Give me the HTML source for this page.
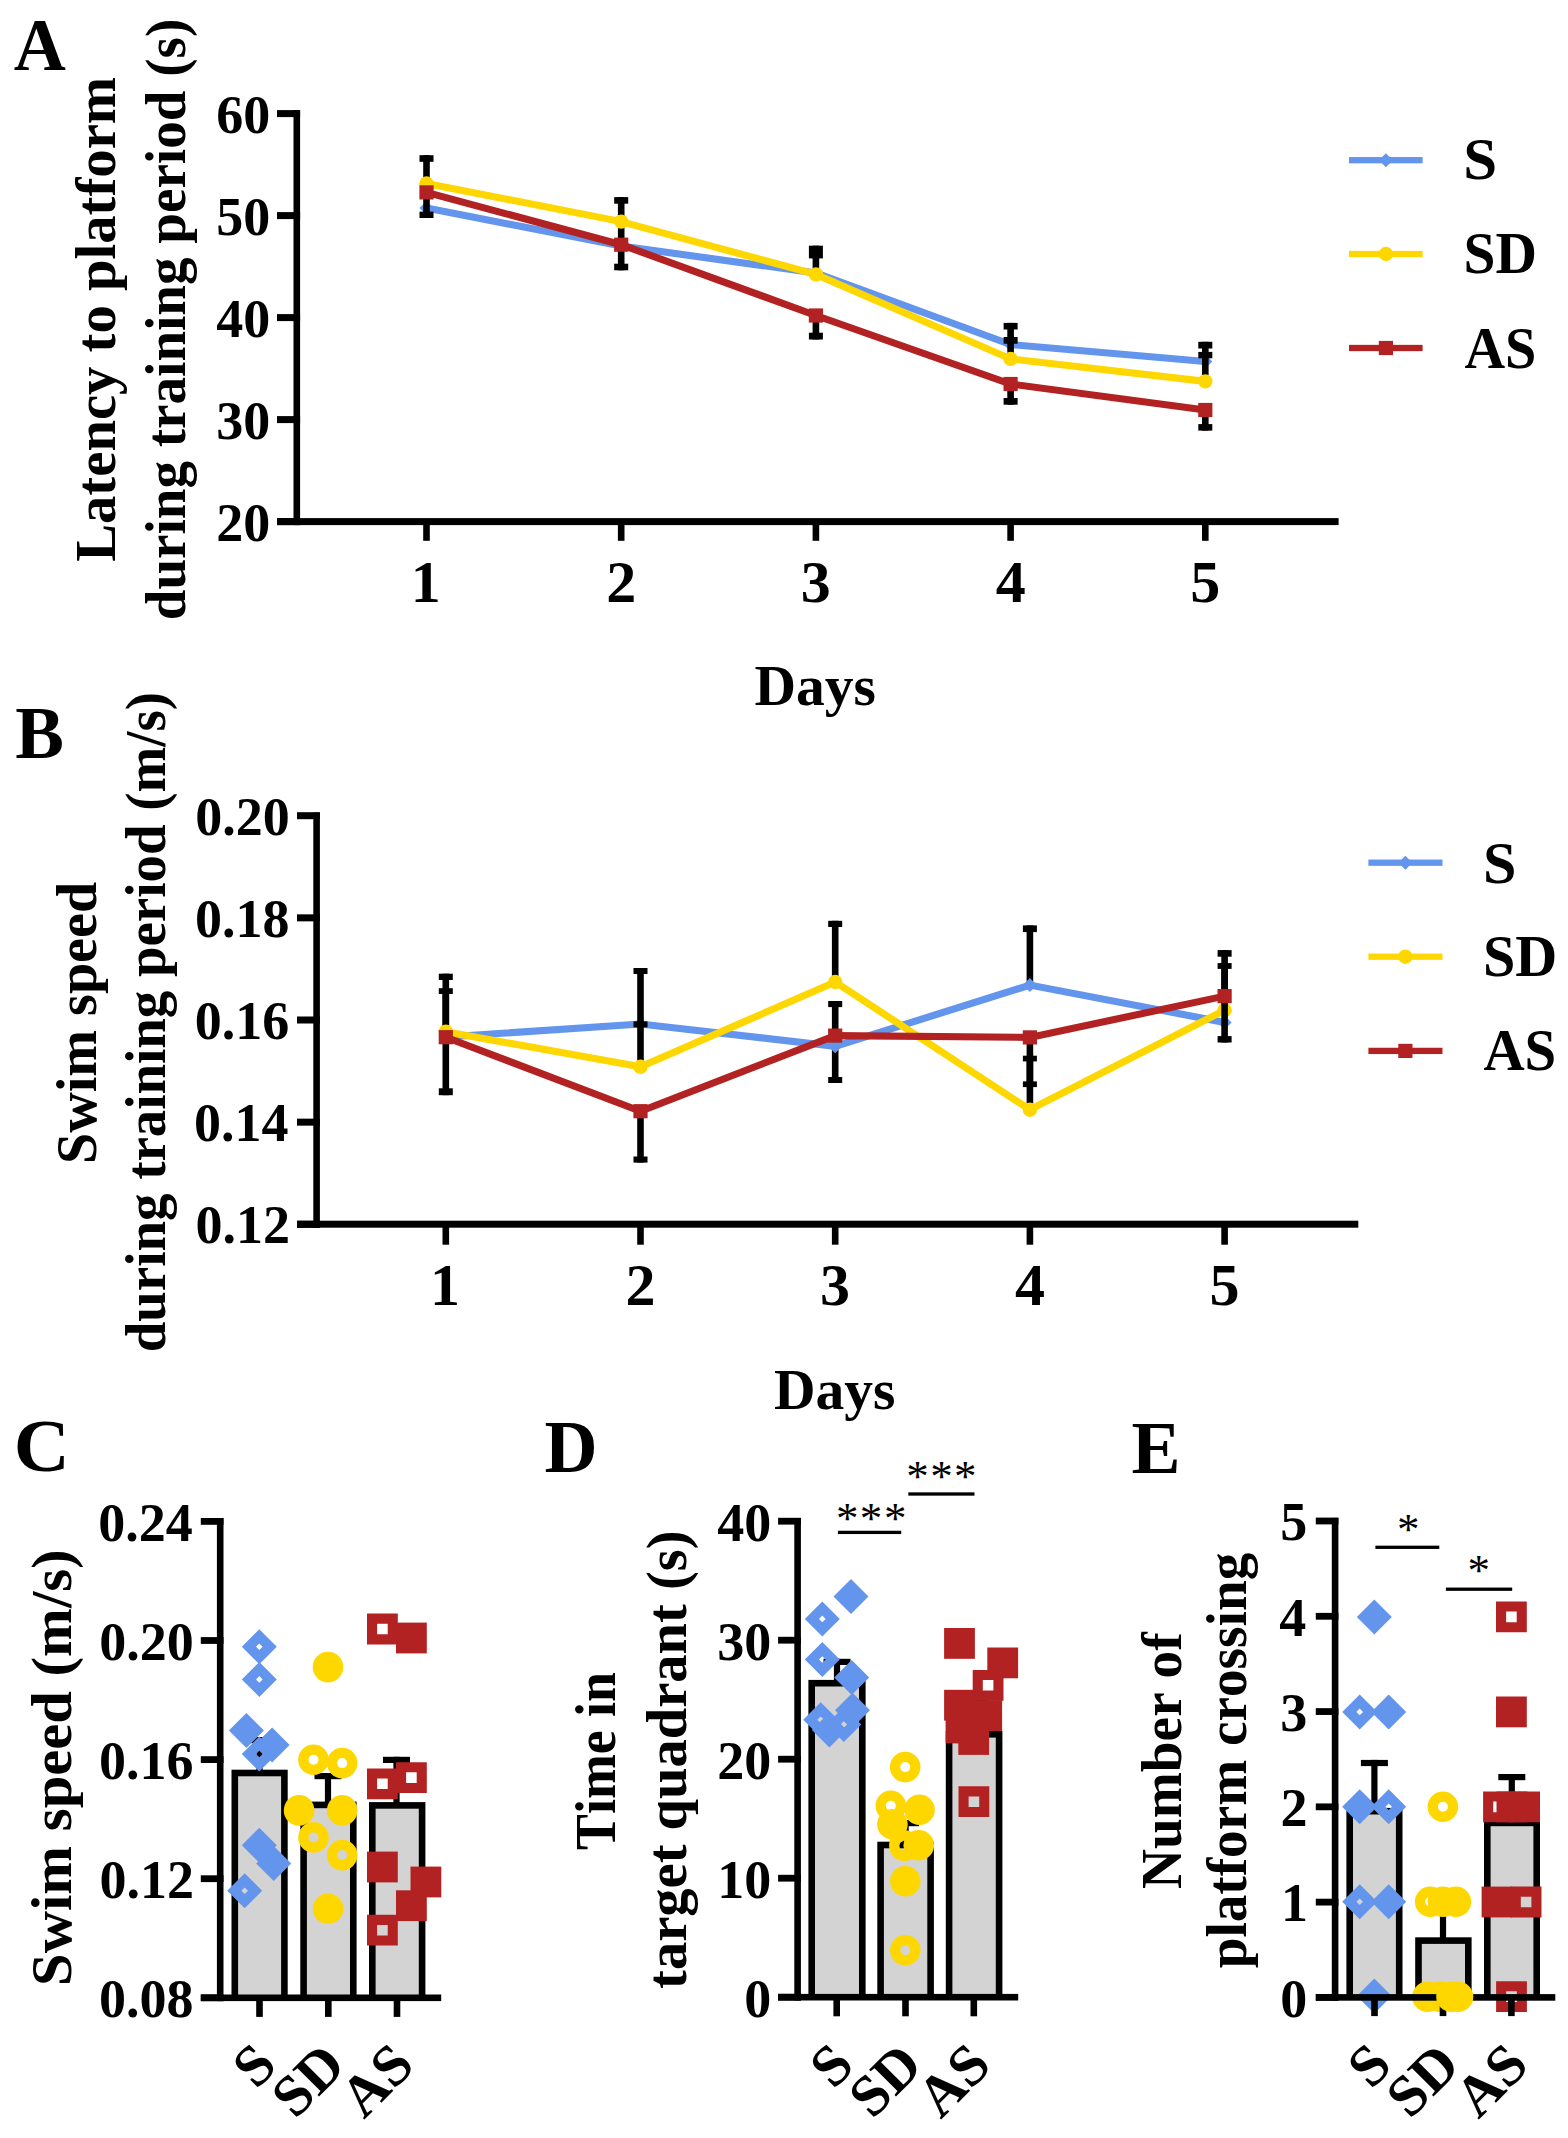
<!DOCTYPE html>
<html><head><meta charset="utf-8"><title>Figure</title>
<style>html,body{margin:0;padding:0;background:#fff;width:1568px;height:2138px;overflow:hidden}svg{display:block}</style>
</head><body>
<svg width="1568" height="2138" viewBox="0 0 1568 2138"><rect x="0" y="0" width="1568" height="2138" fill="#fff"/>
<g font-family='"Liberation Serif", serif' style="font-kerning:none">
<text transform="translate(13.8,69.6) scale(0.9755,1)" font-size="74" font-weight="bold" fill="#000">A</text>
<rect x="293.5" y="110" width="6.6" height="415.1" fill="#000"/>
<rect x="277" y="518.1" width="23.1" height="7" fill="#000"/>
<text transform="translate(216.26,540.9)" font-size="54" font-weight="bold" fill="#000">20</text>
<rect x="277" y="416.1" width="23.1" height="7" fill="#000"/>
<text transform="translate(216.26,438.9)" font-size="54" font-weight="bold" fill="#000">30</text>
<rect x="277" y="314.1" width="23.1" height="7" fill="#000"/>
<text transform="translate(216.26,336.9)" font-size="54" font-weight="bold" fill="#000">40</text>
<rect x="277" y="212.1" width="23.1" height="7" fill="#000"/>
<text transform="translate(216.26,234.9)" font-size="54" font-weight="bold" fill="#000">50</text>
<rect x="277" y="110.1" width="23.1" height="7" fill="#000"/>
<text transform="translate(216.26,132.9)" font-size="54" font-weight="bold" fill="#000">60</text>
<rect x="277" y="518.1" width="1061.6" height="7" fill="#000"/>
<rect x="423.2" y="521.6" width="6.6" height="19.2" fill="#000"/>
<text transform="translate(410.65,601.8)" font-size="60" font-weight="bold" fill="#000">1</text>
<rect x="617.9" y="521.6" width="6.6" height="19.2" fill="#000"/>
<text transform="translate(606.23,601.8)" font-size="60" font-weight="bold" fill="#000">2</text>
<rect x="812.6" y="521.6" width="6.6" height="19.2" fill="#000"/>
<text transform="translate(800.8,601.8)" font-size="60" font-weight="bold" fill="#000">3</text>
<rect x="1007.3" y="521.6" width="6.6" height="19.2" fill="#000"/>
<text transform="translate(995.75,601.8)" font-size="60" font-weight="bold" fill="#000">4</text>
<rect x="1202" y="521.6" width="6.6" height="19.2" fill="#000"/>
<text transform="translate(1190.2,601.8)" font-size="60" font-weight="bold" fill="#000">5</text>
<text transform="translate(754.49,705.3) scale(0.9923,1)" font-size="58" font-weight="bold" fill="#000">Days</text>
<text transform="translate(115,561.77) rotate(-90) scale(0.9946,1)" font-size="57" font-weight="bold">Latency to platform</text>
<text transform="translate(184.7,620.23) rotate(-90) scale(0.9668,1)" font-size="57" font-weight="bold">during training period (s)</text>
<rect x="617.9" y="226" width="6.6" height="20" fill="#000"/>
<polyline points="426.5,208 621.2,246 815.9,273 1010.6,344.5 1205.3,361.5" fill="none" stroke="#6495ED" stroke-width="7.1" stroke-linejoin="miter" stroke-linecap="butt"/>
<path d="M426.5 201L433.5 208L426.5 215L419.5 208Z" fill="#6495ED" fill-rule="evenodd"/>
<path d="M621.2 239L628.2 246L621.2 253L614.2 246Z" fill="#6495ED" fill-rule="evenodd"/>
<path d="M815.9 266L822.9 273L815.9 280L808.9 273Z" fill="#6495ED" fill-rule="evenodd"/>
<path d="M1010.6 337.5L1017.6 344.5L1010.6 351.5L1003.6 344.5Z" fill="#6495ED" fill-rule="evenodd"/>
<path d="M1205.3 354.5L1212.3 361.5L1205.3 368.5L1198.3 361.5Z" fill="#6495ED" fill-rule="evenodd"/>
<rect x="423.2" y="155.2" width="6.6" height="28.3" fill="#000"/>
<rect x="419.5" y="155.2" width="14" height="6.6" fill="#000"/>
<rect x="617.9" y="197.1" width="6.6" height="24.5" fill="#000"/>
<rect x="614.2" y="197.1" width="14" height="6.6" fill="#000"/>
<rect x="812.6" y="245.7" width="6.6" height="28.7" fill="#000"/>
<rect x="808.9" y="245.7" width="14" height="6.6" fill="#000"/>
<rect x="1007.3" y="322.9" width="6.6" height="36" fill="#000"/>
<rect x="1003.6" y="322.9" width="14" height="6.6" fill="#000"/>
<rect x="1202" y="341.8" width="6.6" height="39.6" fill="#000"/>
<rect x="1198.3" y="341.8" width="14" height="6.7" fill="#000"/>
<rect x="812.6" y="251.8" width="6.6" height="6.6" fill="#000"/>
<rect x="808.9" y="251.8" width="14" height="6.6" fill="#000"/>
<rect x="1007.3" y="337" width="6.6" height="6.7" fill="#000"/>
<rect x="1003.6" y="337" width="14" height="6.7" fill="#000"/>
<rect x="1202" y="351.9" width="6.6" height="6.4" fill="#000"/>
<rect x="1198.3" y="351.9" width="14" height="6.4" fill="#000"/>
<polyline points="426.5,183.5 621.2,221.6 815.9,274.4 1010.6,358.9 1205.3,381.4" fill="none" stroke="#FFD700" stroke-width="7.1" stroke-linejoin="miter" stroke-linecap="butt"/>
<circle cx="426.5" cy="183.5" r="7.2" fill="#FFD700"/>
<circle cx="621.2" cy="221.6" r="7.2" fill="#FFD700"/>
<circle cx="815.9" cy="274.4" r="7.2" fill="#FFD700"/>
<circle cx="1010.6" cy="358.9" r="7.2" fill="#FFD700"/>
<circle cx="1205.3" cy="381.4" r="7.2" fill="#FFD700"/>
<rect x="423.2" y="192.4" width="6.6" height="25.6" fill="#000"/>
<rect x="419.5" y="211.6" width="14" height="6.4" fill="#000"/>
<rect x="617.9" y="244.7" width="6.6" height="25.6" fill="#000"/>
<rect x="614.2" y="263.7" width="14" height="6.6" fill="#000"/>
<rect x="812.6" y="315.5" width="6.6" height="24" fill="#000"/>
<rect x="808.9" y="332.7" width="14" height="6.8" fill="#000"/>
<rect x="1007.3" y="384" width="6.6" height="20.7" fill="#000"/>
<rect x="1003.6" y="398" width="14" height="6.7" fill="#000"/>
<rect x="1202" y="410" width="6.6" height="20.6" fill="#000"/>
<rect x="1198.3" y="424.1" width="14" height="6.5" fill="#000"/>
<polyline points="426.5,192.4 621.2,244.7 815.9,315.5 1010.6,384 1205.3,410" fill="none" stroke="#B22222" stroke-width="7.1" stroke-linejoin="miter" stroke-linecap="butt"/>
<path d="M419.4 185.3h14.2v14.2h-14.2Z" fill="#B22222" fill-rule="evenodd"/>
<path d="M614.1 237.6h14.2v14.2h-14.2Z" fill="#B22222" fill-rule="evenodd"/>
<path d="M808.8 308.4h14.2v14.2h-14.2Z" fill="#B22222" fill-rule="evenodd"/>
<path d="M1003.5 376.9h14.2v14.2h-14.2Z" fill="#B22222" fill-rule="evenodd"/>
<path d="M1198.2 402.9h14.2v14.2h-14.2Z" fill="#B22222" fill-rule="evenodd"/>
<rect x="1349" y="157.05" width="73.6" height="6.3" fill="#6495ED"/>
<path d="M1385.9 153.2L1392.9 160.2L1385.9 167.2L1378.9 160.2Z" fill="#6495ED" fill-rule="evenodd"/>
<text transform="translate(1463.35,179.4) scale(1.0344,1)" font-size="59" font-weight="bold" fill="#000">S</text>
<rect x="1349" y="250.85" width="73.6" height="6.3" fill="#FFD700"/>
<circle cx="1385.9" cy="254" r="7.2" fill="#FFD700"/>
<text transform="translate(1463.54,273.4) scale(0.9741,1)" font-size="59" font-weight="bold" fill="#000">SD</text>
<rect x="1349" y="344.85" width="73.6" height="6.3" fill="#B22222"/>
<path d="M1378.8 340.9h14.2v14.2h-14.2Z" fill="#B22222" fill-rule="evenodd"/>
<text transform="translate(1464.45,367.6) scale(0.9539,1)" font-size="59" font-weight="bold" fill="#000">AS</text>
<text transform="translate(15.19,757.6)" font-size="73" font-weight="bold" fill="#000">B</text>
<rect x="313.3" y="812.5" width="6.6" height="415.3" fill="#000"/>
<rect x="297" y="1220.8" width="22.9" height="7" fill="#000"/>
<text transform="translate(195.42,1243.3)" font-size="54" font-weight="bold" fill="#000">0.12</text>
<rect x="297" y="1118.65" width="22.9" height="7" fill="#000"/>
<text transform="translate(194.1,1141.15)" font-size="54" font-weight="bold" fill="#000">0.14</text>
<rect x="297" y="1016.5" width="22.9" height="7" fill="#000"/>
<text transform="translate(194.68,1039)" font-size="54" font-weight="bold" fill="#000">0.16</text>
<rect x="297" y="914.35" width="22.9" height="7" fill="#000"/>
<text transform="translate(194.89,936.85)" font-size="54" font-weight="bold" fill="#000">0.18</text>
<rect x="297" y="812.2" width="22.9" height="7" fill="#000"/>
<text transform="translate(195.16,834.7)" font-size="54" font-weight="bold" fill="#000">0.20</text>
<rect x="297" y="1220.7" width="1061.3" height="7" fill="#000"/>
<rect x="442.5" y="1224.2" width="6.6" height="20.5" fill="#000"/>
<text transform="translate(429.95,1305.3)" font-size="60" font-weight="bold" fill="#000">1</text>
<rect x="637.2" y="1224.2" width="6.6" height="20.5" fill="#000"/>
<text transform="translate(625.53,1305.3)" font-size="60" font-weight="bold" fill="#000">2</text>
<rect x="831.9" y="1224.2" width="6.6" height="20.5" fill="#000"/>
<text transform="translate(820.1,1305.3)" font-size="60" font-weight="bold" fill="#000">3</text>
<rect x="1026.6" y="1224.2" width="6.6" height="20.5" fill="#000"/>
<text transform="translate(1015.05,1305.3)" font-size="60" font-weight="bold" fill="#000">4</text>
<rect x="1221.3" y="1224.2" width="6.6" height="20.5" fill="#000"/>
<text transform="translate(1209.5,1305.3)" font-size="60" font-weight="bold" fill="#000">5</text>
<text transform="translate(773.99,1409.1) scale(0.9915,1)" font-size="58" font-weight="bold" fill="#000">Days</text>
<text transform="translate(95.5,1163.89) rotate(-90) scale(0.9840,1)" font-size="57" font-weight="bold">Swim speed</text>
<text transform="translate(165,1352.23) rotate(-90) scale(0.9632,1)" font-size="57" font-weight="bold">during training period (m/s)</text>
<rect x="442.5" y="988.2" width="6.6" height="48.8" fill="#000"/>
<rect x="438.8" y="988.2" width="14" height="5.8" fill="#000"/>
<rect x="831.9" y="1001" width="6.6" height="82" fill="#000"/>
<rect x="828.2" y="1001" width="14" height="6.1" fill="#000"/>
<rect x="828.2" y="1077" width="14" height="6" fill="#000"/>
<rect x="1026.6" y="925.4" width="6.6" height="59.7" fill="#000"/>
<rect x="1022.9" y="925.4" width="14" height="6.7" fill="#000"/>
<polyline points="445.8,1037 640.5,1024 835.2,1046.3 1029.9,985.1 1224.6,1022.4" fill="none" stroke="#6495ED" stroke-width="7.1" stroke-linejoin="miter" stroke-linecap="butt"/>
<path d="M445.8 1030L452.8 1037L445.8 1044L438.8 1037Z" fill="#6495ED" fill-rule="evenodd"/>
<path d="M640.5 1017L647.5 1024L640.5 1031L633.5 1024Z" fill="#6495ED" fill-rule="evenodd"/>
<path d="M835.2 1039.3L842.2 1046.3L835.2 1053.3L828.2 1046.3Z" fill="#6495ED" fill-rule="evenodd"/>
<path d="M1029.9 978.1L1036.9 985.1L1029.9 992.1L1022.9 985.1Z" fill="#6495ED" fill-rule="evenodd"/>
<path d="M1224.6 1015.4L1231.6 1022.4L1224.6 1029.4L1217.6 1022.4Z" fill="#6495ED" fill-rule="evenodd"/>
<rect x="442.5" y="973.7" width="6.6" height="58" fill="#000"/>
<rect x="438.8" y="973.7" width="14" height="6.3" fill="#000"/>
<rect x="637.2" y="968" width="6.6" height="98.8" fill="#000"/>
<rect x="633.5" y="968" width="14" height="6" fill="#000"/>
<rect x="633.5" y="1021.4" width="14" height="6" fill="#000"/>
<rect x="831.9" y="920.8" width="6.6" height="61.2" fill="#000"/>
<rect x="828.2" y="920.8" width="14" height="6.2" fill="#000"/>
<rect x="1026.6" y="1055.7" width="6.6" height="54" fill="#000"/>
<rect x="1022.9" y="1055.7" width="14" height="5.7" fill="#000"/>
<rect x="1221.3" y="963.1" width="6.6" height="47.1" fill="#000"/>
<rect x="1217.6" y="963.1" width="14" height="5.8" fill="#000"/>
<polyline points="445.8,1031.7 640.5,1066.8 835.2,982 1029.9,1109.7 1224.6,1010.2" fill="none" stroke="#FFD700" stroke-width="7.1" stroke-linejoin="miter" stroke-linecap="butt"/>
<circle cx="445.8" cy="1031.7" r="7.2" fill="#FFD700"/>
<circle cx="640.5" cy="1066.8" r="7.2" fill="#FFD700"/>
<circle cx="835.2" cy="982" r="7.2" fill="#FFD700"/>
<circle cx="1029.9" cy="1109.7" r="7.2" fill="#FFD700"/>
<circle cx="1224.6" cy="1010.2" r="7.2" fill="#FFD700"/>
<rect x="442.5" y="1037.2" width="6.6" height="58" fill="#000"/>
<rect x="438.8" y="1088.3" width="14" height="6.9" fill="#000"/>
<rect x="637.2" y="1111.2" width="6.6" height="51.4" fill="#000"/>
<rect x="633.5" y="1156.5" width="14" height="6.1" fill="#000"/>
<rect x="1026.6" y="1037.4" width="6.6" height="49.7" fill="#000"/>
<rect x="1022.9" y="1081.4" width="14" height="5.7" fill="#000"/>
<rect x="1221.3" y="950.1" width="6.6" height="92.4" fill="#000"/>
<rect x="1217.6" y="950.1" width="14" height="6.6" fill="#000"/>
<rect x="1217.6" y="1036.1" width="14" height="6.4" fill="#000"/>
<polyline points="445.8,1037.2 640.5,1111.2 835.2,1035.6 1029.9,1037.4 1224.6,996.1" fill="none" stroke="#B22222" stroke-width="7.1" stroke-linejoin="miter" stroke-linecap="butt"/>
<path d="M438.7 1030.1h14.2v14.2h-14.2Z" fill="#B22222" fill-rule="evenodd"/>
<path d="M633.4 1104.1h14.2v14.2h-14.2Z" fill="#B22222" fill-rule="evenodd"/>
<path d="M828.1 1028.5h14.2v14.2h-14.2Z" fill="#B22222" fill-rule="evenodd"/>
<path d="M1022.8 1030.3h14.2v14.2h-14.2Z" fill="#B22222" fill-rule="evenodd"/>
<path d="M1217.5 989h14.2v14.2h-14.2Z" fill="#B22222" fill-rule="evenodd"/>
<rect x="1368.4" y="859.55" width="74.1" height="6.3" fill="#6495ED"/>
<path d="M1405.4 855.7L1412.4 862.7L1405.4 869.7L1398.4 862.7Z" fill="#6495ED" fill-rule="evenodd"/>
<text transform="translate(1482.9,882.7) scale(1.0196,1)" font-size="59" font-weight="bold" fill="#000">S</text>
<rect x="1368.4" y="953.55" width="74.1" height="6.3" fill="#FFD700"/>
<circle cx="1405.4" cy="956.7" r="7.2" fill="#FFD700"/>
<text transform="translate(1483.01,976.4) scale(0.9856,1)" font-size="59" font-weight="bold" fill="#000">SD</text>
<rect x="1368.4" y="1047.75" width="74.1" height="6.3" fill="#B22222"/>
<path d="M1398.3 1043.8h14.2v14.2h-14.2Z" fill="#B22222" fill-rule="evenodd"/>
<text transform="translate(1483.44,1069.5) scale(0.9649,1)" font-size="59" font-weight="bold" fill="#000">AS</text>
<text transform="translate(13.71,1471.4) scale(1.0477,1)" font-size="74" font-weight="bold" fill="#000">C</text>
<rect x="231.5" y="1769.7" width="56.2" height="228.1" fill="#000"/>
<rect x="238.1" y="1776.3" width="43" height="221.5" fill="#D3D3D3"/>
<rect x="300.3" y="1801.6" width="56.3" height="196.2" fill="#000"/>
<rect x="306.9" y="1808.2" width="43.1" height="189.6" fill="#D3D3D3"/>
<rect x="369" y="1802.1" width="56.4" height="195.7" fill="#000"/>
<rect x="375.6" y="1808.7" width="43.2" height="189.1" fill="#D3D3D3"/>
<rect x="256.4" y="1737" width="6.2" height="35" fill="#000"/>
<rect x="246" y="1737" width="27" height="6.2" fill="#000"/>
<rect x="324.9" y="1773" width="6.2" height="32" fill="#000"/>
<rect x="314.5" y="1773" width="27" height="6.2" fill="#000"/>
<rect x="393.4" y="1756.8" width="6.2" height="48.2" fill="#000"/>
<rect x="383" y="1756.8" width="27" height="6.2" fill="#000"/>
<path d="M259.3 1629.2L276.8 1646.7L259.3 1664.2L241.8 1646.7ZM259.3 1643.4L256 1646.7L259.3 1650L262.6 1646.7Z" fill="#6495ED" fill-rule="evenodd"/>
<path d="M259.3 1661.9L276.8 1679.4L259.3 1696.9L241.8 1679.4ZM259.3 1676.1L256 1679.4L259.3 1682.7L262.6 1679.4Z" fill="#6495ED" fill-rule="evenodd"/>
<path d="M246.4 1713L263.9 1730.5L246.4 1748L228.9 1730.5Z" fill="#6495ED" fill-rule="evenodd"/>
<path d="M272.1 1727.5L289.6 1745L272.1 1762.5L254.6 1745Z" fill="#6495ED" fill-rule="evenodd"/>
<path d="M259.3 1736.5L276.8 1754L259.3 1771.5L241.8 1754ZM259.3 1750.7L256 1754L259.3 1757.3L262.6 1754Z" fill="#6495ED" fill-rule="evenodd"/>
<path d="M259.3 1827.7L276.8 1845.2L259.3 1862.7L241.8 1845.2Z" fill="#6495ED" fill-rule="evenodd"/>
<path d="M273.7 1845.9L291.2 1863.4L273.7 1880.9L256.2 1863.4Z" fill="#6495ED" fill-rule="evenodd"/>
<path d="M244.7 1873.3L262.2 1890.8L244.7 1908.3L227.2 1890.8ZM244.7 1887.5L241.4 1890.8L244.7 1894.1L248 1890.8Z" fill="#6495ED" fill-rule="evenodd"/>
<circle cx="328" cy="1667.1" r="15.3" fill="#FFD700"/>
<path d="M298.2 1759.8a15.3 15.3 0 1 0 30.6 0a15.3 15.3 0 1 0 -30.6 0ZM308.5 1759.8a5 5 0 1 1 10 0a5 5 0 1 1 -10 0Z" fill="#FFD700" fill-rule="evenodd"/>
<path d="M326.9 1763.1a15.3 15.3 0 1 0 30.6 0a15.3 15.3 0 1 0 -30.6 0ZM337.2 1763.1a5 5 0 1 1 10 0a5 5 0 1 1 -10 0Z" fill="#FFD700" fill-rule="evenodd"/>
<circle cx="299.1" cy="1810.4" r="15.3" fill="#FFD700"/>
<circle cx="342.2" cy="1810.4" r="15.3" fill="#FFD700"/>
<path d="M298.2 1837.4a15.3 15.3 0 1 0 30.6 0a15.3 15.3 0 1 0 -30.6 0ZM308.5 1837.4a5 5 0 1 1 10 0a5 5 0 1 1 -10 0Z" fill="#FFD700" fill-rule="evenodd"/>
<path d="M326.9 1855.1a15.3 15.3 0 1 0 30.6 0a15.3 15.3 0 1 0 -30.6 0ZM337.2 1855.1a5 5 0 1 1 10 0a5 5 0 1 1 -10 0Z" fill="#FFD700" fill-rule="evenodd"/>
<circle cx="328" cy="1908.7" r="15.3" fill="#FFD700"/>
<path d="M367 1613.6h30.8v30.8h-30.8ZM377.1 1623.7v10.6h10.6v-10.6Z" fill="#B22222" fill-rule="evenodd"/>
<path d="M396 1622.6h30.8v30.8h-30.8Z" fill="#B22222" fill-rule="evenodd"/>
<path d="M367 1768.4h30.8v30.8h-30.8ZM377.1 1778.5v10.6h10.6v-10.6Z" fill="#B22222" fill-rule="evenodd"/>
<path d="M396 1762.2h30.8v30.8h-30.8ZM406.1 1772.3v10.6h10.6v-10.6Z" fill="#B22222" fill-rule="evenodd"/>
<path d="M367 1851.6h30.8v30.8h-30.8Z" fill="#B22222" fill-rule="evenodd"/>
<path d="M410.5 1866.6h30.8v30.8h-30.8Z" fill="#B22222" fill-rule="evenodd"/>
<path d="M396 1890.3h30.8v30.8h-30.8Z" fill="#B22222" fill-rule="evenodd"/>
<path d="M367 1914.8h30.8v30.8h-30.8ZM377.1 1924.9v10.6h10.6v-10.6Z" fill="#B22222" fill-rule="evenodd"/>
<rect x="216.9" y="1518.2" width="6.6" height="482.9" fill="#000"/>
<rect x="200.8" y="1994.4" width="22.7" height="6.8" fill="#000"/>
<text transform="translate(99.09,2017.1)" font-size="54" font-weight="bold" fill="#000">0.08</text>
<rect x="200.8" y="1875.3" width="22.7" height="6.8" fill="#000"/>
<text transform="translate(99.62,1898)" font-size="54" font-weight="bold" fill="#000">0.12</text>
<rect x="200.8" y="1756.2" width="22.7" height="6.8" fill="#000"/>
<text transform="translate(98.88,1778.9)" font-size="54" font-weight="bold" fill="#000">0.16</text>
<rect x="200.8" y="1637.1" width="22.7" height="6.8" fill="#000"/>
<text transform="translate(99.36,1659.8)" font-size="54" font-weight="bold" fill="#000">0.20</text>
<rect x="200.8" y="1518" width="22.7" height="6.8" fill="#000"/>
<text transform="translate(98.3,1540.7)" font-size="54" font-weight="bold" fill="#000">0.24</text>
<rect x="200.8" y="1994.5" width="240.4" height="6.6" fill="#000"/>
<rect x="256.2" y="1997.8" width="6.6" height="19.1" fill="#000"/>
<rect x="325" y="1997.8" width="6.6" height="19.1" fill="#000"/>
<rect x="393.7" y="1997.8" width="6.6" height="19.1" fill="#000"/>
<text transform="translate(70.5,1985.92) rotate(-90) scale(1.0289,1)" font-size="57" font-weight="bold">Swim speed (m/s)</text>
<text transform="translate(279,2067.5) rotate(-45)" font-size="58" font-weight="bold" text-anchor="end">S</text>
<text transform="translate(347.8,2067.5) rotate(-45)" font-size="58" font-weight="bold" text-anchor="end">SD</text>
<text transform="translate(416.5,2067.5) rotate(-45)" font-size="58" font-weight="bold" text-anchor="end">AS</text>
<text transform="translate(544.61,1472)" font-size="73.5" font-weight="bold" fill="#000">D</text>
<rect x="808.4" y="1679.9" width="57.2" height="317.3" fill="#000"/>
<rect x="815" y="1686.5" width="44" height="310.7" fill="#D3D3D3"/>
<rect x="877.3" y="1841.7" width="56.6" height="155.5" fill="#000"/>
<rect x="883.9" y="1848.3" width="43.4" height="148.9" fill="#D3D3D3"/>
<rect x="945.8" y="1731" width="56.6" height="266.2" fill="#000"/>
<rect x="952.4" y="1737.6" width="43.4" height="259.6" fill="#D3D3D3"/>
<rect x="833.9" y="1658.8" width="6.2" height="24.2" fill="#000"/>
<rect x="823.5" y="1658.8" width="27" height="6.2" fill="#000"/>
<rect x="902.5" y="1820" width="6.2" height="25" fill="#000"/>
<rect x="892.1" y="1820" width="27" height="6.2" fill="#000"/>
<rect x="971" y="1700" width="6.2" height="30" fill="#000"/>
<rect x="960.6" y="1700" width="27" height="6.2" fill="#000"/>
<path d="M851 1579.1L868.5 1596.6L851 1614.1L833.5 1596.6Z" fill="#6495ED" fill-rule="evenodd"/>
<path d="M822.3 1601.4L839.8 1618.9L822.3 1636.4L804.8 1618.9ZM822.3 1615.6L819 1618.9L822.3 1622.2L825.6 1618.9Z" fill="#6495ED" fill-rule="evenodd"/>
<path d="M822.3 1642L839.8 1659.5L822.3 1677L804.8 1659.5ZM822.3 1656.2L819 1659.5L822.3 1662.8L825.6 1659.5Z" fill="#6495ED" fill-rule="evenodd"/>
<path d="M851.7 1660L869.2 1677.5L851.7 1695L834.2 1677.5Z" fill="#6495ED" fill-rule="evenodd"/>
<path d="M852.5 1692.7L870 1710.2L852.5 1727.7L835 1710.2Z" fill="#6495ED" fill-rule="evenodd"/>
<path d="M820.7 1702.2L838.2 1719.7L820.7 1737.2L803.2 1719.7ZM820.7 1716.4L817.4 1719.7L820.7 1723L824 1719.7Z" fill="#6495ED" fill-rule="evenodd"/>
<path d="M843.8 1707L861.3 1724.5L843.8 1742L826.3 1724.5ZM843.8 1721.2L840.5 1724.5L843.8 1727.8L847.1 1724.5Z" fill="#6495ED" fill-rule="evenodd"/>
<path d="M829.4 1712.5L846.9 1730L829.4 1747.5L811.9 1730Z" fill="#6495ED" fill-rule="evenodd"/>
<path d="M889.9 1767.1a15.3 15.3 0 1 0 30.6 0a15.3 15.3 0 1 0 -30.6 0ZM900.2 1767.1a5 5 0 1 1 10 0a5 5 0 1 1 -10 0Z" fill="#FFD700" fill-rule="evenodd"/>
<path d="M875.5 1805.8a15.3 15.3 0 1 0 30.6 0a15.3 15.3 0 1 0 -30.6 0ZM885.8 1805.8a5 5 0 1 1 10 0a5 5 0 1 1 -10 0Z" fill="#FFD700" fill-rule="evenodd"/>
<circle cx="919.5" cy="1809.8" r="15.3" fill="#FFD700"/>
<circle cx="892.4" cy="1824.2" r="15.3" fill="#FFD700"/>
<path d="M889.1 1845.7a15.3 15.3 0 1 0 30.6 0a15.3 15.3 0 1 0 -30.6 0ZM899.4 1845.7a5 5 0 1 1 10 0a5 5 0 1 1 -10 0Z" fill="#FFD700" fill-rule="evenodd"/>
<circle cx="918.8" cy="1845.3" r="15.3" fill="#FFD700"/>
<circle cx="905.3" cy="1881.3" r="15.3" fill="#FFD700"/>
<path d="M890 1950.2a15.3 15.3 0 1 0 30.6 0a15.3 15.3 0 1 0 -30.6 0ZM900.3 1950.2a5 5 0 1 1 10 0a5 5 0 1 1 -10 0Z" fill="#FFD700" fill-rule="evenodd"/>
<path d="M944.1 1628h30.8v30.8h-30.8Z" fill="#B22222" fill-rule="evenodd"/>
<path d="M987.3 1647.5h30.8v30.8h-30.8Z" fill="#B22222" fill-rule="evenodd"/>
<path d="M972.7 1669.9h30.8v30.8h-30.8ZM982.8 1680v10.6h10.6v-10.6Z" fill="#B22222" fill-rule="evenodd"/>
<path d="M944.1 1689.8h30.8v30.8h-30.8Z" fill="#B22222" fill-rule="evenodd"/>
<path d="M971.3 1700.2h30.8v30.8h-30.8Z" fill="#B22222" fill-rule="evenodd"/>
<path d="M945.6 1712.6h30.8v30.8h-30.8Z" fill="#B22222" fill-rule="evenodd"/>
<path d="M958.3 1724.1h30.8v30.8h-30.8Z" fill="#B22222" fill-rule="evenodd"/>
<path d="M958.5 1786.3h30.8v30.8h-30.8ZM968.6 1796.4v10.6h10.6v-10.6Z" fill="#B22222" fill-rule="evenodd"/>
<rect x="794.3" y="1518.1" width="6.6" height="482.4" fill="#000"/>
<rect x="778.1" y="1993.8" width="22.8" height="6.8" fill="#000"/>
<text transform="translate(744.36,2016.5)" font-size="54" font-weight="bold" fill="#000">0</text>
<rect x="778.1" y="1874.8" width="22.8" height="6.8" fill="#000"/>
<text transform="translate(717.36,1897.5)" font-size="54" font-weight="bold" fill="#000">10</text>
<rect x="778.1" y="1755.8" width="22.8" height="6.8" fill="#000"/>
<text transform="translate(717.36,1778.5)" font-size="54" font-weight="bold" fill="#000">20</text>
<rect x="778.1" y="1636.8" width="22.8" height="6.8" fill="#000"/>
<text transform="translate(717.36,1659.5)" font-size="54" font-weight="bold" fill="#000">30</text>
<rect x="778.1" y="1517.8" width="22.8" height="6.8" fill="#000"/>
<text transform="translate(717.36,1540.5)" font-size="54" font-weight="bold" fill="#000">40</text>
<rect x="778.1" y="1993.9" width="240.1" height="6.6" fill="#000"/>
<rect x="833.4" y="1997.2" width="6.6" height="19.1" fill="#000"/>
<rect x="902.2" y="1997.2" width="6.6" height="19.1" fill="#000"/>
<rect x="970.5" y="1997.2" width="6.6" height="19.1" fill="#000"/>
<text transform="translate(615.3,1849.94) rotate(-90) scale(0.9439,1)" font-size="57" font-weight="bold">Time in</text>
<text transform="translate(686,1988.91) rotate(-90) scale(0.9922,1)" font-size="57" font-weight="bold">target quadrant (s)</text>
<text transform="translate(856.2,2067.5) rotate(-45)" font-size="58" font-weight="bold" text-anchor="end">S</text>
<text transform="translate(925,2067.5) rotate(-45)" font-size="58" font-weight="bold" text-anchor="end">SD</text>
<text transform="translate(993.3,2067.5) rotate(-45)" font-size="58" font-weight="bold" text-anchor="end">AS</text>
<rect x="837.9" y="1530.75" width="63.3" height="3.3" fill="#000"/>
<rect x="908.3" y="1492.35" width="66.2" height="3.3" fill="#000"/>
<text transform="translate(836.03,1532.96)" font-size="45" font-weight="normal" fill="#000">*</text>
<text transform="translate(859.83,1532.96)" font-size="45" font-weight="normal" fill="#000">*</text>
<text transform="translate(884.03,1532.96)" font-size="45" font-weight="normal" fill="#000">*</text>
<text transform="translate(906.13,1491.26)" font-size="45" font-weight="normal" fill="#000">*</text>
<text transform="translate(930.13,1491.26)" font-size="45" font-weight="normal" fill="#000">*</text>
<text transform="translate(954.03,1491.26)" font-size="45" font-weight="normal" fill="#000">*</text>
<text transform="translate(1131.54,1472.5)" font-size="73.5" font-weight="bold" fill="#000">E</text>
<rect x="1346.4" y="1807.9" width="56.1" height="189.5" fill="#000"/>
<rect x="1353" y="1814.5" width="42.9" height="182.9" fill="#D3D3D3"/>
<rect x="1415.2" y="1937.3" width="56.4" height="60.1" fill="#000"/>
<rect x="1421.8" y="1943.9" width="43.2" height="53.5" fill="#D3D3D3"/>
<rect x="1484" y="1819.6" width="56" height="177.8" fill="#000"/>
<rect x="1490.6" y="1826.2" width="42.8" height="171.2" fill="#D3D3D3"/>
<rect x="1371.3" y="1759.9" width="6.2" height="51.1" fill="#000"/>
<rect x="1360.9" y="1759.9" width="27" height="6.2" fill="#000"/>
<rect x="1439.9" y="1906" width="6.2" height="34" fill="#000"/>
<rect x="1429.5" y="1906" width="27" height="6.2" fill="#000"/>
<rect x="1508.7" y="1774" width="6.2" height="49" fill="#000"/>
<rect x="1498.3" y="1774" width="27" height="6.2" fill="#000"/>
<path d="M1374.3 1599.4L1391.8 1616.9L1374.3 1634.4L1356.8 1616.9Z" fill="#6495ED" fill-rule="evenodd"/>
<path d="M1359.7 1694.4L1377.2 1711.9L1359.7 1729.4L1342.2 1711.9ZM1359.7 1708.6L1356.4 1711.9L1359.7 1715.2L1363 1711.9Z" fill="#6495ED" fill-rule="evenodd"/>
<path d="M1388.7 1694.4L1406.2 1711.9L1388.7 1729.4L1371.2 1711.9Z" fill="#6495ED" fill-rule="evenodd"/>
<path d="M1359.7 1789.2L1377.2 1806.7L1359.7 1824.2L1342.2 1806.7Z" fill="#6495ED" fill-rule="evenodd"/>
<path d="M1388.7 1789.2L1406.2 1806.7L1388.7 1824.2L1371.2 1806.7ZM1388.7 1803.4L1385.4 1806.7L1388.7 1810L1392 1806.7Z" fill="#6495ED" fill-rule="evenodd"/>
<path d="M1359.7 1884.2L1377.2 1901.7L1359.7 1919.2L1342.2 1901.7ZM1359.7 1898.4L1356.4 1901.7L1359.7 1905L1363 1901.7Z" fill="#6495ED" fill-rule="evenodd"/>
<path d="M1388.7 1884.2L1406.2 1901.7L1388.7 1919.2L1371.2 1901.7Z" fill="#6495ED" fill-rule="evenodd"/>
<path d="M1374.3 1978.5L1391.8 1996L1374.3 2013.5L1356.8 1996Z" fill="#6495ED" fill-rule="evenodd"/>
<path d="M1427.6 1806.7a15.3 15.3 0 1 0 30.6 0a15.3 15.3 0 1 0 -30.6 0ZM1437.9 1806.7a5 5 0 1 1 10 0a5 5 0 1 1 -10 0Z" fill="#FFD700" fill-rule="evenodd"/>
<path d="M1414.9 1901.7a15.3 15.3 0 1 0 30.6 0a15.3 15.3 0 1 0 -30.6 0ZM1425.2 1901.7a5 5 0 1 1 10 0a5 5 0 1 1 -10 0Z" fill="#FFD700" fill-rule="evenodd"/>
<circle cx="1442.9" cy="1901.7" r="15.3" fill="#FFD700"/>
<circle cx="1455.9" cy="1901.7" r="15.3" fill="#FFD700"/>
<circle cx="1427.5" cy="1996.7" r="15.3" fill="#FFD700"/>
<circle cx="1440" cy="1996.7" r="15.3" fill="#FFD700"/>
<path d="M1496 1601.5h30.8v30.8h-30.8ZM1506.1 1611.6v10.6h10.6v-10.6Z" fill="#B22222" fill-rule="evenodd"/>
<path d="M1496 1696.5h30.8v30.8h-30.8Z" fill="#B22222" fill-rule="evenodd"/>
<path d="M1483.1 1791.5h30.8v30.8h-30.8ZM1493.2 1801.6v10.6h10.6v-10.6Z" fill="#B22222" fill-rule="evenodd"/>
<path d="M1496.5 1791.5h30.8v30.8h-30.8Z" fill="#B22222" fill-rule="evenodd"/>
<path d="M1509.2 1791.5h30.8v30.8h-30.8Z" fill="#B22222" fill-rule="evenodd"/>
<path d="M1481.6 1886.6h30.8v30.8h-30.8Z" fill="#B22222" fill-rule="evenodd"/>
<path d="M1510.7 1886.6h30.8v30.8h-30.8ZM1520.8 1896.7v10.6h10.6v-10.6Z" fill="#B22222" fill-rule="evenodd"/>
<path d="M1496.1 1981.2h30.8v30.8h-30.8ZM1506.2 1991.3v10.6h10.6v-10.6Z" fill="#B22222" fill-rule="evenodd"/>
<rect x="1331.8" y="1517.9" width="6.6" height="482.6" fill="#000"/>
<rect x="1315.8" y="1994" width="22.6" height="6.8" fill="#000"/>
<text transform="translate(1280.36,2016.7)" font-size="54" font-weight="bold" fill="#000">0</text>
<rect x="1315.8" y="1898.72" width="22.6" height="6.8" fill="#000"/>
<text transform="translate(1281.09,1921.42)" font-size="54" font-weight="bold" fill="#000">1</text>
<rect x="1315.8" y="1803.44" width="22.6" height="6.8" fill="#000"/>
<text transform="translate(1280.62,1826.14)" font-size="54" font-weight="bold" fill="#000">2</text>
<rect x="1315.8" y="1708.16" width="22.6" height="6.8" fill="#000"/>
<text transform="translate(1280.15,1730.86)" font-size="54" font-weight="bold" fill="#000">3</text>
<rect x="1315.8" y="1612.88" width="22.6" height="6.8" fill="#000"/>
<text transform="translate(1279.3,1635.58)" font-size="54" font-weight="bold" fill="#000">4</text>
<rect x="1315.8" y="1517.6" width="22.6" height="6.8" fill="#000"/>
<text transform="translate(1280.28,1540.3)" font-size="54" font-weight="bold" fill="#000">5</text>
<rect x="1315.8" y="1994.1" width="239.5" height="6.6" fill="#000"/>
<rect x="1371.2" y="1997.4" width="6.6" height="18.7" fill="#000"/>
<rect x="1439.7" y="1997.4" width="6.6" height="18.7" fill="#000"/>
<rect x="1508.1" y="1997.4" width="6.6" height="18.7" fill="#000"/>
<circle cx="1451.5" cy="1996.7" r="15.3" fill="#FFD700"/>
<circle cx="1458" cy="1996.7" r="15.3" fill="#FFD700"/>
<text transform="translate(1180.5,1888.95) rotate(-90) scale(0.9706,1)" font-size="57" font-weight="bold">Number of</text>
<text transform="translate(1246.1,1968.3) rotate(-90) scale(0.9686,1)" font-size="57" font-weight="bold">platform crossing</text>
<text transform="translate(1394,2067.5) rotate(-45)" font-size="58" font-weight="bold" text-anchor="end">S</text>
<text transform="translate(1462.5,2067.5) rotate(-45)" font-size="58" font-weight="bold" text-anchor="end">SD</text>
<text transform="translate(1530.9,2067.5) rotate(-45)" font-size="58" font-weight="bold" text-anchor="end">AS</text>
<rect x="1375.4" y="1545.65" width="63.9" height="3.3" fill="#000"/>
<rect x="1445.9" y="1587.55" width="66.3" height="3.3" fill="#000"/>
<text transform="translate(1396.93,1544.46)" font-size="45" font-weight="normal" fill="#000">*</text>
<text transform="translate(1467.43,1584.56)" font-size="45" font-weight="normal" fill="#000">*</text>
</g></svg>
</body></html>
